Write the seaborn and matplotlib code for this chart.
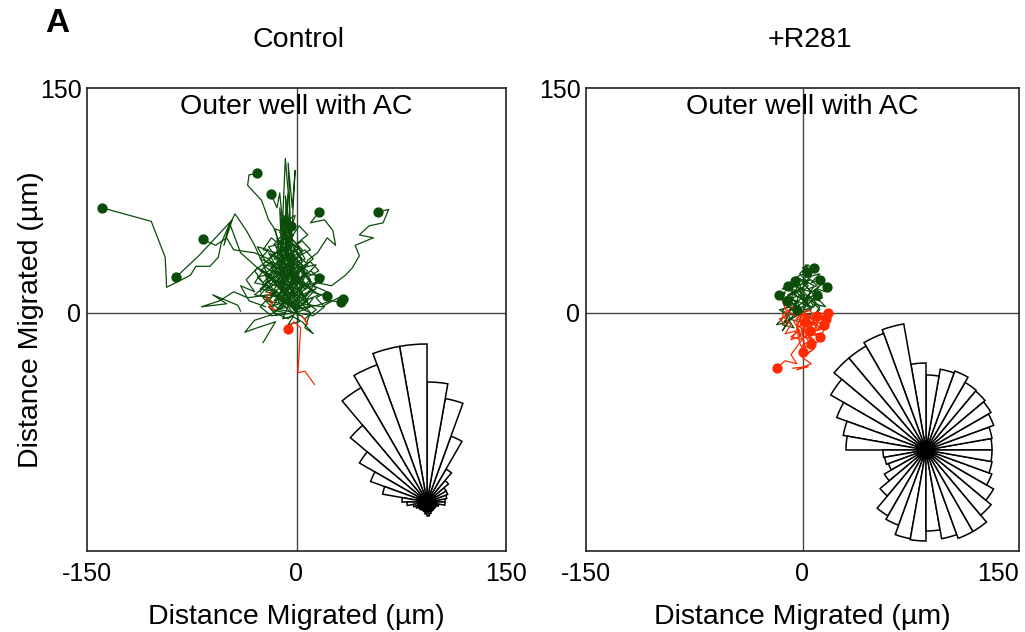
import numpy as np
import pandas as pd
import matplotlib
matplotlib.use("Agg")
import matplotlib.pyplot as plt
import seaborn as sns

# ---- data (µm) ----
# Control: green tracks whose end point is marked with a dot
ctrl_green_tracks = [
    [(0, 2), (-10, 15), (-22, 28), (-30, 45), (-36, 55), (-44, 66), (-50, 55), (-54, 46), (-56, 37),
     (-62, 31), (-72, 31), (-76, 25), (-93, 17), (-94, 37), (-104, 61), (-139, 70)],
    [(-5, 10), (-18, 22), (-28, 30), (-40, 40), (-48, 60), (-52, 45), (-46, 62), (-58, 50), (-70, 38), (-86, 24)],
    [(-8, 20), (-20, 36), (-30, 40), (-45, 42), (-50, 50), (-58, 45), (-67, 49)],
    [(-5, 25), (-12, 40), (-15, 55), (-20, 62), (-25, 75), (-35, 85), (-34, 92), (-28, 93)],
    [(-6, 15), (-7, 50), (-6, 30), (-5, 70), (-8, 103), (-10, 60), (-12, 80), (-14, 70), (-18, 79)],
    [(-3, 10), (-2, 40), (-4, 55), (-1, 65), (-8, 61)],
    [(-2, 20), (-4, 45), (-6, 56), (-4, 58)],
    [(2, 20), (8, 35), (15, 40), (22, 50), (28, 45), (26, 55), (20, 62), (10, 60), (16, 67)],
    [(5, 15), (15, 20), (25, 18), (35, 25), (40, 30), (45, 38), (42, 45), (55, 50), (45, 52), (52, 58),
     (62, 60), (66, 69), (58, 67)],
    [(0, 5), (8, 12), (12, 18), (16, 23)],
    [(2, 3), (15, 5), (25, 8), (32, 7)],
    [(0, 8), (10, 14), (22, 11)],
    [(4, 6), (18, 4), (30, 10), (33, 9)],
    [(-4, 20), (-2, 30), (-5, 37)],
]
# Control: green tracks of the dense central cloud (no end marker)
ctrl_green_cloud = [
    [(-5, 8), (-20, 12), (-35, 10), (-45, 14), (-55, 8), (-68, 4), (-50, 6), (-60, 12), (-42, 5), (-40, 1)],
    [(-8, 5), (-20, -2), (-30, -5), (-37, -13), (-28, -10), (-15, -6), (-24, -20)],
    [(0, 0), (-6, 8), (-2, 16), (-10, 20), (-4, 28), (-12, 32), (-6, 38), (-14, 44), (-8, 50), (-16, 46),
     (-10, 36), (-18, 30), (-12, 22), (-20, 16)],
    [(0, 0), (4, 10), (-4, 14), (2, 22), (-6, 26), (0, 34), (-8, 40), (-2, 46), (4, 40), (-4, 32), (2, 26),
     (-6, 18), (0, 12), (-8, 6)],
    [(-2, 4), (-14, 10), (-8, 18), (-18, 22), (-10, 28), (-22, 34), (-14, 40), (-24, 42), (-18, 50), (-10, 44),
     (-20, 36), (-12, 26), (-22, 20), (-16, 12)],
    [(0, 2), (8, 8), (2, 16), (10, 22), (4, 30), (12, 36), (6, 42), (-2, 38), (6, 30), (-2, 24), (8, 18),
     (0, 10), (6, 4)],
    [(-4, 0), (-10, 6), (-4, 12), (-14, 18), (-6, 24), (-16, 28), (-8, 34), (-18, 38), (-10, 42), (-4, 34),
     (-12, 28), (-2, 20), (-10, 14), (-2, 6)],
    [(0, 0), (-8, 14), (-2, 24), (-10, 34), (-4, 44), (-12, 54), (-6, 46), (-14, 38), (-8, 28), (-16, 20),
     (-6, 10), (-12, 4)],
    [(2, -2), (-4, 6), (4, 12), (-6, 16), (2, 22), (-8, 30), (0, 36), (-10, 42), (-4, 50), (2, 44), (-6, 36),
     (4, 30), (-4, 24), (6, 16)],
    [(0, 0), (-12, 2), (-20, 8), (-14, 14), (-24, 18), (-16, 24), (-26, 28), (-18, 34), (-8, 30), (-16, 22),
     (-6, 18), (-14, 10), (-4, 6)],
    [(0, 0), (10, 4), (4, 12), (14, 16), (8, 24), (16, 28), (10, 34), (2, 30), (10, 20), (0, 16), (8, 8), (-2, 2)],
    [(0, 0), (-3, 20), (-7, 50), (-5, 30), (-9, 65), (-11, 40), (-6, 80), (-8, 35), (-12, 70), (-10, 25)],
    [(0, 0), (-6, -4), (-16, 0), (-10, 6), (-22, 8), (-14, 14), (-26, 16), (-18, 22), (-8, 20), (-18, 12),
     (-6, 10), (-12, 2)],
    [(0, 0), (6, -4), (14, 2), (6, 8), (16, 12), (8, 18), (18, 22), (10, 28), (2, 22), (12, 14), (4, 6), (10, 0)],
    [(-2, 2), (-8, 22), (-4, 40), (-10, 58), (-6, 36), (-12, 48), (-8, 30), (-14, 42), (-10, 18), (-4, 8)],
    [(0, 0), (-10, 10), (-4, 20), (-14, 26), (-6, 32), (-16, 36), (-8, 44), (-2, 52), (-10, 56), (-4, 48),
     (-12, 40), (-6, 30), (-14, 22), (-8, 14)],
    [(0, 0), (4, 18), (-2, 28), (6, 36), (0, 46), (8, 52), (2, 58), (-4, 50), (4, 42), (-2, 34), (6, 24), (0, 14)],
    [(0, 0), (-18, -2), (-26, 4), (-20, 10), (-30, 12), (-22, 18), (-28, 24), (-16, 26), (-24, 32), (-12, 30),
     (-20, 20), (-10, 16)],
    [(0, 0), (2, -6), (-6, -8), (-2, -2), (-10, -4), (-6, 4), (-14, 2), (-8, 10), (-16, 8), (-10, 16), (-2, 12)],
    [(0, 0), (12, -2), (20, 4), (14, 10), (22, 14), (12, 18), (20, 24), (8, 26), (14, 32), (4, 30), (10, 20), (0, 14)],
    [(0, 0), (-4, 14), (2, 20), (-6, 26), (-12, 20), (-8, 12), (-16, 14), (-12, 6), (-20, 4), (-14, -2)],
    [(0, 0), (-5, 30), (-3, 60), (-1, 95), (-3, 70), (-6, 100), (-4, 50), (-8, 78), (-6, 40)],
    [(-2, 6), (-12, 16), (-20, 26), (-28, 30), (-36, 22), (-30, 14), (-40, 18), (-34, 8), (-22, 4)],
    [(0, 4), (10, 0), (6, -10), (12, -14), (4, -6), (-4, -2)],
    [(-6, 20), (-10, 26), (-4, 30), (-12, 34), (-8, 22), (-14, 18), (-6, 14), (-12, 10), (-4, 18), (-10, 30),
     (-2, 36), (-8, 40)],
    [(-10, 10), (-16, 16), (-8, 24), (-18, 28), (-12, 36), (-20, 40), (-14, 30), (-22, 24), (-16, 14), (-24, 10),
     (-18, 4)],
    [(0, 10), (-6, 18), (2, 24), (-4, 30), (4, 36), (-2, 42), (-8, 36), (-2, 28), (-10, 22), (-2, 14), (-8, 8)],
    [(-2, 30), (-10, 38), (-4, 44), (-14, 48), (-8, 54), (-16, 56), (-12, 46), (-20, 44), (-14, 36), (-6, 40),
     (-12, 30)],
    [(-14, 20), (-22, 26), (-16, 32), (-26, 36), (-20, 42), (-28, 44), (-22, 34), (-30, 28), (-24, 20), (-18, 26),
     (-26, 14)],
    [(4, 12), (-2, 20), (6, 26), (0, 32), (8, 28), (2, 20), (10, 16), (4, 8), (12, 10), (6, 2), (-2, 6)],
    [(-4, 4), (-12, 8), (-6, 14), (-16, 20), (-8, 26), (-14, 32), (-4, 28), (-10, 20), (0, 16), (-6, 10), (2, 4)],
    [(-8, 36), (-4, 46), (-10, 52), (-2, 56), (-8, 62), (-4, 50), (-12, 44), (-6, 38), (-14, 34), (-8, 28)],
    [(6, 20), (0, 26), (8, 32), (2, 38), (10, 42), (4, 48), (-2, 44), (4, 34), (-4, 28), (2, 22), (-6, 16)],
    [(-18, 8), (-26, 12), (-20, 18), (-30, 20), (-24, 28), (-16, 22), (-22, 14), (-12, 12), (-18, 2), (-8, 0)],
    [(-3, 0), (-9, 9), (-3, 15), (-13, 19), (-7, 29), (-15, 33), (-5, 37), (-11, 45), (-3, 49), (-9, 41),
     (-1, 31), (-7, 21)],
    [(2, 2), (-2, 12), (6, 18), (-4, 24), (4, 32), (-6, 38), (0, 44), (-8, 48), (-2, 38), (-10, 28), (0, 20),
     (-6, 6)],
]
# Control: red tracks
ctrl_red_tracks = [
    [(13, -48), (6, -39), (1, -40), (3, -10), (-2, -6), (-6, -11)],
    [(-18, 14), (-22, 10), (-17, 7), (-20, 4), (-15, 2)],
    [(4, -2), (8, -8), (6, -4)],
]
ctrl_red_dot = [True, False, False]

# +R281
r281_green_tracks = [
    [(0, 0), (-5, 6), (2, 12), (-8, 10), (-3, 18), (5, 22), (0, 28), (8, 30), (4, 24), (12, 26), (6, 20), (12, 22)],
    [(0, 0), (-10, 4), (-6, 10), (-14, 8), (-12, 14), (-16, 12)],
    [(0, 0), (4, 8), (-2, 14), (3, 20), (-4, 24), (3, 27)],
    [(0, 0), (-6, 2), (-3, 10), (-8, 16), (-2, 20), (-5, 21)],
    [(0, 0), (8, 4), (4, 10), (12, 8), (10, 16), (16, 14), (14, 20), (17, 17)],
    [(0, 0), (-12, -2), (-18, -8), (-10, -6), (-14, -12), (-8, -4), (-4, 2)],
    [(0, 0), (6, -4), (12, 2), (8, 6), (16, 4), (10, 10), (4, 6), (10, 12)],
    [(0, 0), (-4, 8), (4, 4), (-2, 16), (6, 14), (2, 8), (8, 18), (0, 22), (6, 26), (2, 32), (8, 30)],
    [(0, 0), (-8, -4), (-14, 2), (-6, 6), (-12, 10), (-4, 14), (-10, 18)],
    [(0, 0), (-6, 6), (-11, 8)],
]
r281_green_cloud = [
    [(0, 0), (-4, 4), (2, 8), (-6, 12), (0, 16), (-8, 18), (-2, 22), (4, 18), (-2, 12), (4, 6), (-4, 2)],
    [(0, 0), (6, 2), (2, 8), (8, 12), (4, 16), (10, 18), (6, 22), (0, 20), (6, 14), (0, 8), (6, 4)],
    [(0, 0), (-8, 2), (-4, 8), (-12, 10), (-6, 14), (-14, 16), (-8, 20), (-2, 16), (-10, 12), (-4, 6), (-10, 0)],
    [(0, 0), (-2, -6), (-10, -4), (-6, -10), (-14, -8), (-10, -2), (-16, 2), (-8, 4), (-12, -6), (-4, -2)],
    [(0, 0), (4, 10), (-2, 18), (6, 24), (0, 30), (4, 32), (-2, 26), (4, 20), (-4, 14), (2, 6)],
    [(0, 0), (8, -2), (12, 4), (6, 8), (14, 10), (8, 14), (12, 18), (4, 12), (10, 6), (2, 2)],
]
r281_red_tracks = [
    [(0, 0), (-4, -10), (-2, -20), (-8, -28), (-4, -34), (-12, -32), (-18, -37)],
    [(0, 0), (6, -8), (2, -16), (8, -24), (0, -30), (6, -34), (-4, -38), (4, -36), (-7, -37)],
    [(0, 0), (8, -4), (14, -2), (18, 0)],
    [(0, 0), (4, -10), (10, -6), (15, -8)],
    [(0, 0), (2, -14), (8, -18), (6, -21)],
    [(0, 0), (-6, -6), (-2, -12), (-8, -16), (0, -18), (-4, -10), (2, -6)],
    [(0, 0), (10, -10), (6, -14), (12, -16)],
    [(0, 0), (-4, -4), (3, -8), (-1, -12), (5, -12)],
    [(0, 0), (-8, 4), (-14, 8), (-10, -2), (-16, -4), (-12, -8)],
    [(0, 0), (4, 2), (12, -4), (10, -2)],
    [(0, 0), (14, -8), (16, -4)],
    [(0, 0), (-2, -4), (2, -24), (0, -26)],
]
r281_red_dot = [True, False, True, True, True, True, True, True, False, True, True, True]
r281_red_cloud = [
    [(0, 0), (4, -4), (10, -2), (6, -8), (14, -6), (10, -12), (16, -10), (12, -16), (4, -12), (8, -6), (2, -8)],
    [(0, 0), (-2, -6), (4, -10), (-2, -14), (6, -18), (0, -22), (8, -24), (2, -28), (-2, -20), (4, -14), (-4, -8)],
    [(0, 0), (6, -2), (2, -6), (10, -8), (6, -14), (14, -14), (10, -20), (4, -16), (12, -10), (6, -4)],
    [(0, 0), (-6, -2), (-10, 2), (-14, -2), (-8, -8), (-12, -14), (-4, -12), (-8, -18), (-2, -16), (-4, -6)],
]

# rose diagrams: 10-degree bins starting at 0 deg (counter-clockwise), bar length
rose_bins = np.arange(0, 360, 10)
ctrl_rose = [18, 20, 22, 22, 28, 38, 70, 105, 120, 158, 158, 146, 132, 100, 78, 60, 45, 25,
             20, 14, 12, 10, 10, 9, 9, 10, 12, 14, 12, 10, 10, 9, 9, 10, 12, 18]
r281_rose = [66, 67, 72, 75, 77, 78, 84, 82, 75, 87, 128, 124, 120, 120, 110, 95, 84, 80,
             43, 42, 40, 48, 60, 76, 80, 90, 91, 81, 90, 94, 94, 85, 78, 70, 67, 66]

panel_titles = ["Control", "+R281"]
inner_label = "Outer well with AC"
axis_label = "Distance Migrated (µm)"

GREEN = "#0b4c0b"
RED = "#ff2a00"


def tracks_df(tracks):
    rows = []
    for i, tr in enumerate(tracks):
        for j, (x, y) in enumerate(tr):
            rows.append((i, j, x, y))
    return pd.DataFrame(rows, columns=["track", "step", "x", "y"])


sns.set_style("white")
plt.rcParams["font.family"] = ["Liberation Sans", "DejaVu Sans"]
plt.rcParams["text.color"] = "black"
plt.rcParams["axes.labelcolor"] = "black"
plt.rcParams["xtick.color"] = "black"
plt.rcParams["ytick.color"] = "black"

fig = plt.figure(figsize=(10.25, 6.32), dpi=100)
W, H = 1025, 632

ax_l = fig.add_axes([87 / W, 1 - 551 / H, 419 / W, 463 / H])
ax_r = fig.add_axes([586 / W, 1 - 551 / H, 433 / W, 463 / H])

panels = [
    (ax_l, ctrl_green_tracks, ctrl_green_cloud, ctrl_red_tracks, [], ctrl_red_dot),
    (ax_r, r281_green_tracks, r281_green_cloud, r281_red_tracks, r281_red_cloud, r281_red_dot),
]

for k, (ax, g_tr, g_cl, r_tr, r_cl, r_dot) in enumerate(panels):
    ax.axhline(0, color="#444444", lw=1.0, zorder=1)
    ax.axvline(0, color="#444444", lw=1.0, zorder=1)

    gdf = tracks_df(g_tr)
    rdf = tracks_df(r_tr)
    for df, col, z in [(tracks_df(g_cl), GREEN, 2), (gdf, GREEN, 2),
                       (tracks_df(r_cl), RED, 3), (rdf, RED, 3)]:
        if len(df):
            sns.lineplot(data=df, x="x", y="y", units="track", estimator=None, sort=False,
                         color=col, lw=0.9, ax=ax, zorder=z)
    gend = gdf.groupby("track").tail(1)
    rend = rdf.groupby("track").tail(1)
    rend = rend[[r_dot[t] for t in rend["track"]]]
    sns.scatterplot(data=gend, x="x", y="y", color=GREEN, s=55, linewidth=0, ax=ax, zorder=4)
    sns.scatterplot(data=rend, x="x", y="y", color=RED, s=55, linewidth=0, ax=ax, zorder=5)

    ax.set_xlim(-150, 150)
    ax.set_ylim(-159, 150)
    ax.set_xticks([-150, 0, 150])
    ax.set_xticklabels(["-150", "0", "150"])
    ax.set_yticks([0, 150])
    ax.set_yticklabels(["0", "150"])
    ax.tick_params(length=0, labelsize=18)
    ax.tick_params(axis="x", pad=8)
    ax.tick_params(axis="y", pad=4)
    if k == 1:
        ax.get_xticklabels()[-1].set_ha("right")
    ax.set_xlabel(axis_label, fontsize=20.5, labelpad=13)
    ax.set_ylabel(axis_label if k == 0 else "", fontsize=20.5, labelpad=-3)
    for sp in ax.spines.values():
        sp.set_visible(True)
        sp.set_color("#222222")
        sp.set_linewidth(1.2)
    ax.text(0.5, 0.958, inner_label, transform=ax.transAxes, ha="center", va="center", fontsize=20.5)

fig.text(298 / W, 1 - 40 / H, panel_titles[0], ha="center", va="center", fontsize=20.5)
fig.text(810 / W, 1 - 40 / H, panel_titles[1], ha="center", va="center", fontsize=20.5)
fig.text(57 / W, 1 - 24 / H, "A", ha="center", va="center", fontsize=24, fontweight="bold")

# rose plots as polar insets (1 radial unit = 1 pixel)
R = 170
for (cx, cy), radii, blob in [((427, 502), ctrl_rose, 170), ((926, 450), r281_rose, 90)]:
    pax = fig.add_axes([(cx - R) / W, 1 - (cy + R) / H, 2 * R / W, 2 * R / H], projection="polar")
    pax.set_ylim(0, R)
    pax.bar(np.deg2rad(rose_bins), radii, width=np.deg2rad(10), align="edge",
            facecolor="white", edgecolor="black", linewidth=1.1)
    pax.scatter([0], [0], s=blob, color="black", zorder=5)
    pax.set_axis_off()
    pax.patch.set_alpha(0)

fig.savefig("out.png", dpi=100)
